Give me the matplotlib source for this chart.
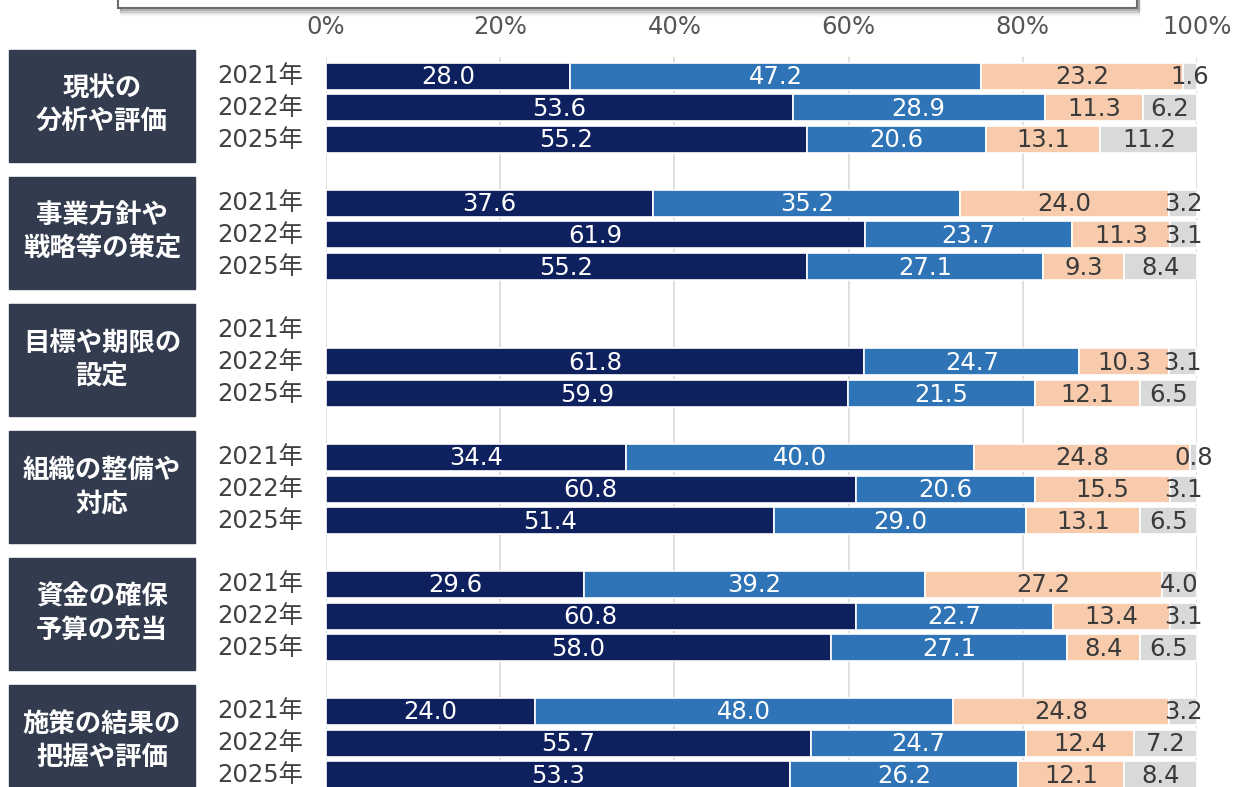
import matplotlib
matplotlib.use("Agg")
import matplotlib.pyplot as plt
from matplotlib.patches import Rectangle
import numpy as np

plt.rcParams['font.family'] = ['DejaVu Sans', 'Noto Sans CJK JP']

# ---- data ----
categories = [
    "現状の\n分析や評価",
    "事業方針や\n戦略等の策定",
    "目標や期限の\n設定",
    "組織の整備や\n対応",
    "資金の確保\n予算の充当",
    "施策の結果の\n把握や評価",
]
years = ["2021年", "2022年", "2025年"]

# shares per segment (navy, blue, peach, gray); None = no survey that year
seg1 = [[28.0, 53.6, 55.2], [37.6, 61.9, 55.2], [None, 61.8, 59.9],
        [34.4, 60.8, 51.4], [29.6, 60.8, 58.0], [24.0, 55.7, 53.3]]
seg2 = [[47.2, 28.9, 20.6], [35.2, 23.7, 27.1], [None, 24.7, 21.5],
        [40.0, 20.6, 29.0], [39.2, 22.7, 27.1], [48.0, 24.7, 26.2]]
seg3 = [[23.2, 11.3, 13.1], [24.0, 11.3, 9.3], [None, 10.3, 12.1],
        [24.8, 15.5, 13.1], [27.2, 13.4, 8.4], [24.8, 12.4, 12.1]]
seg4 = [[1.6, 6.2, 11.2], [3.2, 3.1, 8.4], [None, 3.1, 6.5],
        [0.8, 3.1, 6.5], [4.0, 3.1, 6.5], [3.2, 7.2, 8.4]]

seg_colors = ["#0e205e", "#2e74b6", "#f8cbad", "#d9d9d9"]
label_colors = ["white", "white", "#3a3a3a", "#3a3a3a"]
box_color = "#333c4e"
xticks = [0, 20, 40, 60, 80, 100]

# ---- figure layout ----
W, H = 1242, 787
fig = plt.figure(figsize=(W / 100, H / 100), dpi=100)
ax_left, ax_right = 326, 1197
ax_top, ax_bottom = 57, 787
ax = fig.add_axes([ax_left / W, 1 - ax_bottom / H,
                   (ax_right - ax_left) / W, (ax_bottom - ax_top) / H])

unit = 31.77          # pixels per row
first_center = 76     # pixel y of first row centre
ax.set_ylim((ax_bottom - first_center) / unit, (ax_top - first_center) / unit)
ax.set_xlim(0, 100)

bar_h = 27 / unit
segments = [seg1, seg2, seg3, seg4]
ytrans = ax.get_yaxis_transform()

for g in range(len(categories)):
    for k in range(len(years)):
        y = g * 4 + k
        vals = [s[g][k] for s in segments]
        if vals[0] is None:
            continue
        left = 0.0
        for i, v in enumerate(vals):
            ax.barh(y, v, left=left, height=bar_h, color=seg_colors[i],
                    edgecolor="white", linewidth=1.2, zorder=2)
            ax.text(left + v / 2, y + 0.03, f"{v:.1f}", ha="center", va="center",
                    color=label_colors[i], fontsize=17.5, zorder=3)
            left += v
    # year labels
    for k, yr in enumerate(years):
        ax.text(-0.026, g * 4 + k, yr, transform=ytrans,
                ha="right", va="center", fontsize=17.5, color="#404040",
                family=["DejaVu Sans", "Noto Sans CJK JP"])
    # category box
    bx0 = (9 - ax_left) / (ax_right - ax_left)
    bx1 = (195 - ax_left) / (ax_right - ax_left)
    bh = 112 / unit
    cy = g * 4 + 1 - 2 / unit
    ax.add_patch(Rectangle((bx0, cy - bh / 2), bx1 - bx0, bh,
                           transform=ytrans, color=box_color,
                           clip_on=False, zorder=2))
    ax.text((bx0 + bx1) / 2, cy, categories[g], transform=ytrans,
            ha="center", va="center", color="white", fontsize=19,
            fontweight="bold", family="Noto Sans CJK JP", linespacing=1.3,
            clip_on=False, zorder=3)

# axis styling
ax.xaxis.tick_top()
ax.set_xticks(xticks)
ax.set_xticklabels([f"{t}%" for t in xticks])
ax.tick_params(axis="x", length=0, pad=13, labelsize=17.5, labelcolor="#555555")
ax.set_yticks([])
for s in ax.spines.values():
    s.set_visible(False)
ax.set_axisbelow(True)
ax.grid(axis="x", color="#d9d9d9", linewidth=1.2, zorder=0)

# legend frame at the top edge (mostly outside the canvas) with soft shadow
lx0, lx1 = 118 / W, 1137 / W
for i, a in enumerate([0.12, 0.08, 0.05, 0.03]):
    fig.patches.append(Rectangle((lx0 + 0.002, 1 - (10 + i * 1.5) / H), lx1 - lx0,
                                 0.1, transform=fig.transFigure,
                                 color="#000000", alpha=a, zorder=0))
fig.patches.append(Rectangle((lx0, 1 - 8 / H), lx1 - lx0, 0.1,
                             transform=fig.transFigure, facecolor="white",
                             edgecolor="#6b6b6b", linewidth=1.5, zorder=1))

fig.savefig("out.png", dpi=100)
